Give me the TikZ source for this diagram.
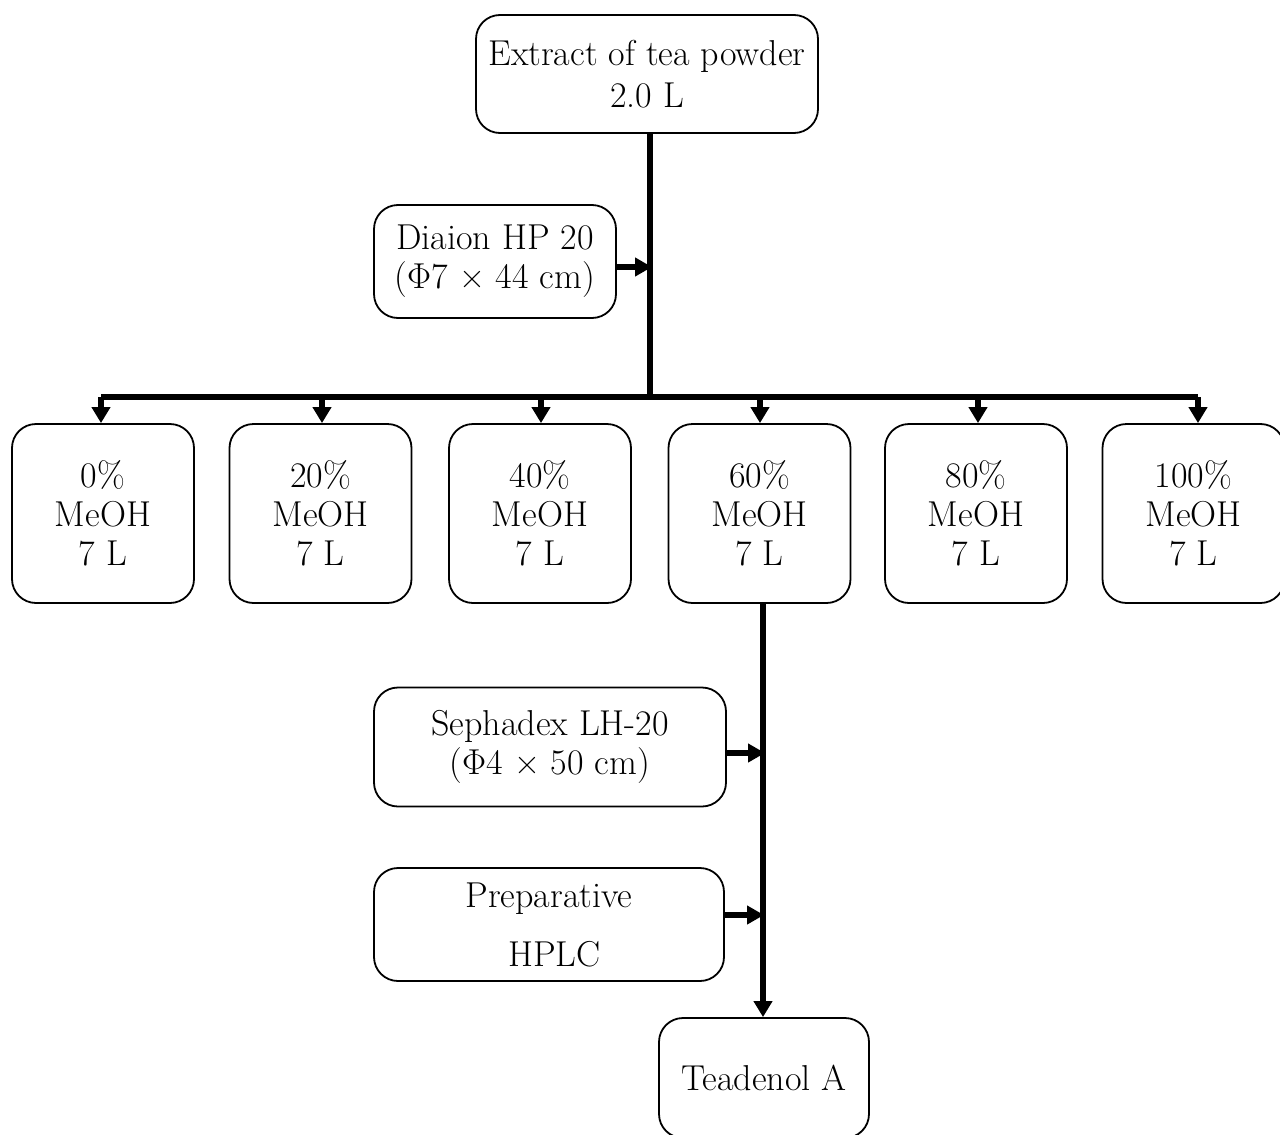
\documentclass[tikz,border=0pt]{standalone}
\usepackage{fontspec}
\usetikzlibrary{arrows.meta}
\begin{document}
\begin{tikzpicture}[x=1pt,y=-1pt,
  box/.style={draw,line width=1.8pt,rounded corners=24pt,inner sep=0pt,align=center,
    font=\fontsize{36}{39}\selectfont},
  flow/.style={line width=5.5pt},
  tip/.style={line width=5.5pt,-{Triangle[width=18pt,length=16pt]}},
  sidetip/.style={line width=6pt,-{Triangle[width=18pt,length=17pt]}}]
\useasboundingbox (0,0) rectangle (1280,1135);

% source and first column
\node[box,minimum width=342pt,minimum height=118pt,font=\fontsize{36}{42}\selectfont] (src) at (647,74) {Extract of tea powder\\2.0 L};
\node[box,minimum width=242pt,minimum height=113pt] (hp20) at (495,261.5) {Diaion HP 20\\(Φ7 × 44 cm)};

% methanol fractions
\foreach \n/\cx/\lab in {f0/103/0\%, f20/320.5/20\%, f40/540/40\%, f60/759.5/60\%, f80/976/80\%, f100/1193.5/100\%}
  \node[box,minimum width=182pt,minimum height=179pt] (\n) at (\cx,513.5) {\lab\\MeOH\\7 L};

% second column and product
\node[box,minimum width=352pt,minimum height=119pt] (lh20) at (550,747) {Sephadex LH-20\\(Φ4 × 50 cm)};
\node[box,minimum width=350pt,minimum height=113pt,font=\fontsize{36}{59}\selectfont] (hplc) at (549,924.5) {Preparative\\ \ HPLC};
\node[box,minimum width=210pt,minimum height=120pt] (tea) at (764,1078) {Teadenol A};

% trunk and branching bar
\coordinate (j1) at (650,397);
\coordinate (b0) at (101,397);
\coordinate (b100) at (1198,397);
\draw[flow] (src.south -| j1) -- (j1);
\draw[flow] (b0) -- (b100);
\foreach \n/\bx in {f0/101, f20/322, f40/541, f60/760, f80/978, f100/1198}
  \draw[tip] (\bx,397) -- (\n.north -| \bx,0);

% side inputs
\draw[sidetip] (hp20.east |- 0,267) -- (652,267);
\draw[sidetip] (lh20.east |- 0,753) -- (765,753);
\draw[sidetip] (hplc.east |- 0,915) -- (764,915);

% second trunk into product
\coordinate (k) at (763,0);
\draw[tip] (f60.south -| k) -- (tea.north -| k);
\end{tikzpicture}
\end{document}
